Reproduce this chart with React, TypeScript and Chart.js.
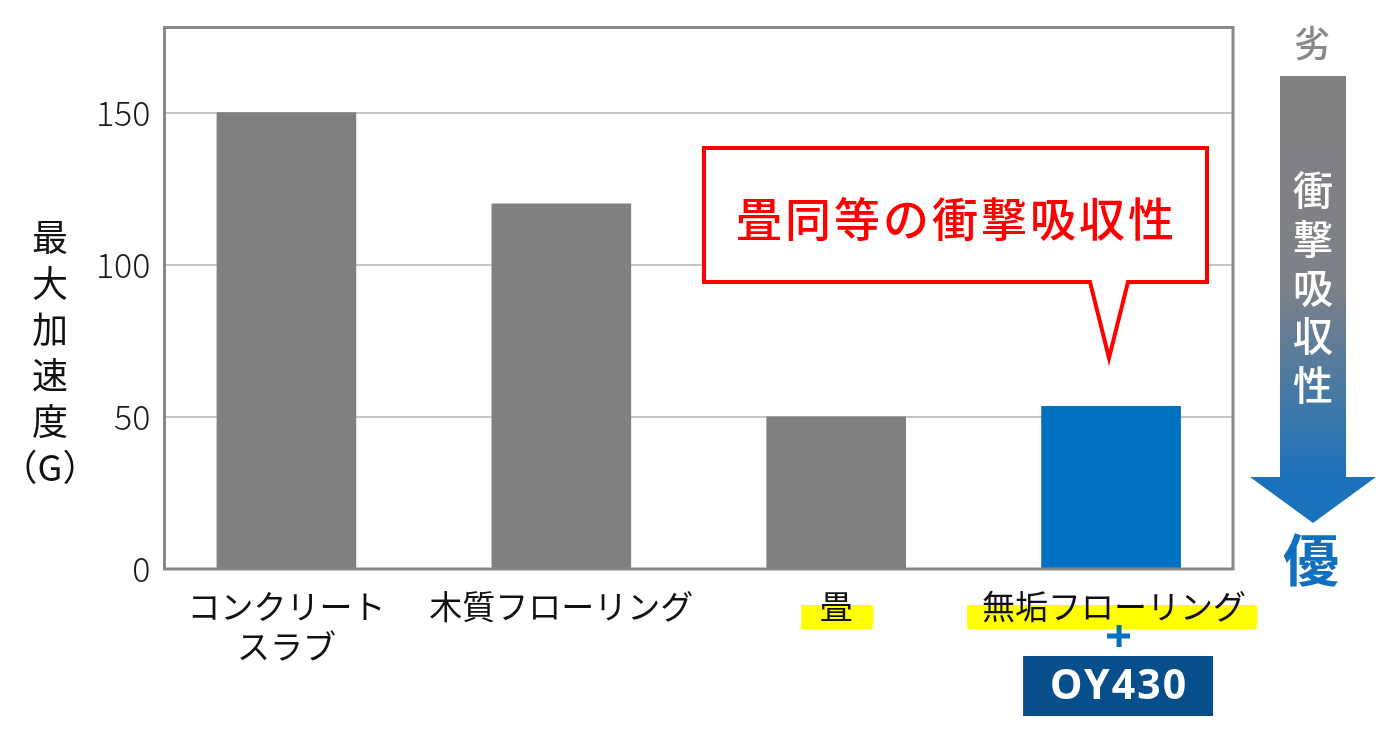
import { useEffect, useRef } from 'react';
import { Chart, ChartConfiguration, Plugin, registerables } from 'chart.js';

Chart.register(...registerables);

// floor samples and their max acceleration (G)
const categories = [['コンクリート', 'スラブ'], ['木質フローリング'], ['畳'], ['無垢フローリング']];
const accelerations = [150, 120, 50, 53.5];
const highlighted = [false, false, true, true];
const yTicks = [0, 50, 100, 150];
const yMax = 178;
const yTitle = ['最', '大', '加', '速', '度', '（G）'];
const calloutText = '畳同等の衝撃吸収性';
const arrowText = ['衝', '撃', '吸', '収', '性'];
const productName = 'OY430';

const GRAY = '#808080';
const BLUE = '#0070c0';
const JP = '"Noto Sans CJK JP", "Noto Sans", sans-serif';
const highlightWidths = [0, 0, 72, 290];

const decorations: Plugin<'bar'> = {
  id: 'decorations',
  afterDraw(chart) {
    const { ctx, chartArea: a } = chart;
    const x = chart.scales.x;
    ctx.save();

    // plot frame
    ctx.strokeStyle = '#898989';
    ctx.lineWidth = 3;
    ctx.strokeRect(a.left, a.top, a.right - a.left, a.bottom - a.top);

    // y title, stacked vertically
    ctx.fillStyle = '#111';
    ctx.textAlign = 'center';
    ctx.textBaseline = 'middle';
    ctx.font = `400 36px ${JP}`;
    yTitle.forEach((ch, i) => ctx.fillText(ch, 50, 237 + i * 46));

    // category labels
    categories.forEach((lines, i) => {
      const cx = x.getPixelForValue(i);
      if (highlighted[i]) {
        const w = highlightWidths[i];
        ctx.fillStyle = '#ffff00';
        ctx.fillRect(cx + 1 - w / 2, a.bottom + 36, w, 24);
      }
      ctx.fillStyle = '#111';
      ctx.font = `400 33px ${JP}`;
      const shift = i === categories.length - 1 ? 3 : 0;
      lines.forEach((t, j) => ctx.fillText(t, cx + shift, a.bottom + 37 + j * 40));
    });

    // "+ OY430" under the last category
    const lx = x.getPixelForValue(categories.length - 1) + 7;
    ctx.fillStyle = BLUE;
    ctx.fillRect(lx - 11, a.bottom + 64.5, 23, 5);
    ctx.fillRect(lx - 1.5, a.bottom + 56, 5, 22);
    ctx.fillStyle = '#064f8a';
    ctx.fillRect(lx - 95, a.bottom + 87, 190, 60);
    ctx.fillStyle = '#fff';
    ctx.font = `700 41px "Noto Sans", sans-serif`;
    (ctx as any).letterSpacing = '2px';
    ctx.fillText(productName, lx + 1, a.bottom + 118);
    (ctx as any).letterSpacing = '0px';

    // callout bubble
    const bl = 704, br = 1207, bt = 148, bb = 282, tip = 1109;
    ctx.beginPath();
    ctx.moveTo(bl, bt);
    ctx.lineTo(br, bt);
    ctx.lineTo(br, bb);
    ctx.lineTo(tip + 19, bb);
    ctx.lineTo(tip, 358);
    ctx.lineTo(tip - 19, bb);
    ctx.lineTo(bl, bb);
    ctx.closePath();
    ctx.fillStyle = '#fff';
    ctx.fill();
    ctx.strokeStyle = '#ff0000';
    ctx.lineWidth = 4;
    ctx.lineJoin = 'miter';
    ctx.stroke();
    ctx.fillStyle = '#ff0000';
    ctx.font = `500 46px ${JP}`;
    (ctx as any).letterSpacing = '3px';
    ctx.fillText(calloutText, (bl + br) / 2 + 1, 219);
    (ctx as any).letterSpacing = '0px';

    // right-hand arrow: worse (top) to better (bottom)
    const ax = a.right + 80;
    const grad = ctx.createLinearGradient(0, 76, 0, 478);
    grad.addColorStop(0, GRAY);
    grad.addColorStop(0.52, '#7e8188');
    grad.addColorStop(1, '#1a72ba');
    ctx.fillStyle = grad;
    ctx.fillRect(ax - 33, 76, 66, 402);
    ctx.fillStyle = '#1a72ba';
    ctx.beginPath();
    ctx.moveTo(ax - 63, 477);
    ctx.lineTo(ax + 63, 477);
    ctx.lineTo(ax, 523);
    ctx.closePath();
    ctx.fill();

    ctx.fillStyle = '#fff';
    ctx.font = `500 40px ${JP}`;
    arrowText.forEach((ch, i) => ctx.fillText(ch, ax, 190 + i * 48.7));

    ctx.fillStyle = '#888';
    ctx.font = `500 36px ${JP}`;
    ctx.fillText('劣', ax - 1, 43);
    ctx.fillStyle = '#1070c0';
    ctx.font = `700 56px ${JP}`;
    ctx.fillText('優', ax - 2, 560);

    ctx.restore();
  },
};

export default function App() {
  const canvasRef = useRef<HTMLCanvasElement>(null);
  const chartRef = useRef<Chart | null>(null);

  useEffect(() => {
    if (!canvasRef.current) return;

    const config: ChartConfiguration<'bar'> = {
      type: 'bar',
      data: {
        datasets: [
          {
            data: accelerations.map((v, i) => ({ x: i, y: v })) as any,
            backgroundColor: accelerations.map((_, i) => (i === accelerations.length - 1 ? BLUE : GRAY)),
            barThickness: 139,
          },
        ],
      },
      options: {
        responsive: true,
        maintainAspectRatio: false,
        animation: false,
        layout: { padding: { left: 0, top: 27.5, right: 167, bottom: 161 } },
        plugins: {
          legend: { display: false },
          tooltip: { enabled: false },
        },
        scales: {
          x: {
            type: 'linear',
            display: false,
            offset: false,
            min: -0.4436,
            max: categories.length - 1 + 0.4436,
          },
          y: {
            min: 0,
            max: yMax,
            afterFit: (scale) => {
              scale.width = 164.5;
              scale.paddingTop = 0;
              scale.paddingBottom = 0;
            },
            afterBuildTicks: (scale) => {
              scale.ticks = yTicks.map((v) => ({ value: v }));
            },
            border: { display: false },
            grid: {
              drawTicks: false,
              color: (c) => (c.tick && c.tick.value === 0 ? 'rgba(0,0,0,0)' : '#c4c4c4'),
              lineWidth: 2,
            },
            ticks: {
              padding: 14,
              color: '#1a1a1a',
              font: { family: '"Noto Sans CJK JP", "Noto Sans", sans-serif', size: 34, weight: 300 },
            },
          },
        },
      },
      plugins: [decorations],
    };

    chartRef.current = new Chart(canvasRef.current, config);

    return () => {
      chartRef.current?.destroy();
    };
  }, []);

  return (
    <div style={{ position: 'absolute', left: 0, top: 0, width: 1400, height: 730, background: '#fff' }}>
      <canvas ref={canvasRef}></canvas>
    </div>
  );
}
